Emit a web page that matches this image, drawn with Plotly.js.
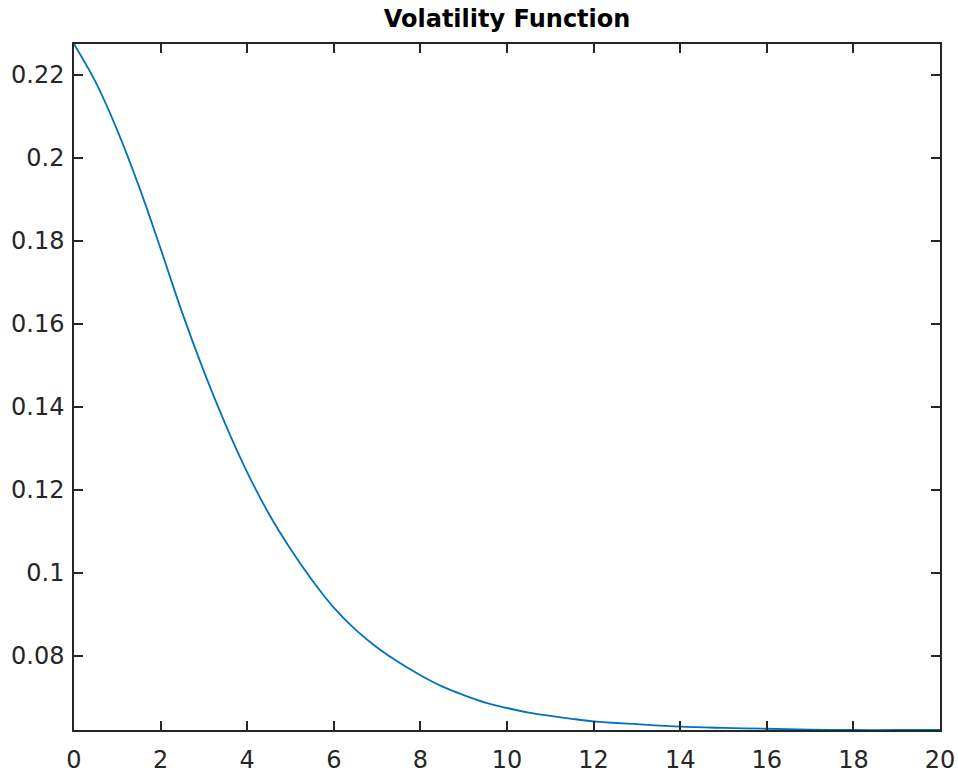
<!DOCTYPE html>
<html>
<head>
<meta charset="utf-8">
<script src="https://cdn.plot.ly/plotly-3.0.1.min.js"></script>
<style>html,body{margin:0;padding:0;background:#fff;}#chart{width:958px;height:773px;}</style>
</head>
<body>
<div id="chart"></div>
<script>
// Time (x) values and volatility (y) values
const timeValues = [0, 0.5, 1, 1.5, 2, 2.5, 3, 3.5, 4, 4.5, 5, 5.5, 6, 6.5, 7, 7.5, 8, 8.5, 9, 9.5, 10, 10.5, 11, 11.5, 12, 13, 14, 15, 16, 17, 18, 19, 20];
const volatilityValues = [0.2274, 0.2182, 0.2066, 0.1931, 0.1781, 0.1626, 0.1485, 0.1357, 0.1242, 0.1142, 0.1057, 0.0982, 0.0916, 0.0863, 0.0820, 0.0784, 0.0753, 0.0726, 0.0705, 0.0687, 0.0674, 0.0663, 0.0655, 0.0648, 0.0642, 0.0635, 0.0629, 0.0626, 0.0624, 0.0622, 0.0621, 0.0621, 0.0621];

const xTickValues = [0, 2, 4, 6, 8, 10, 12, 14, 16, 18, 20];
const xTickLabels = ["0", "2", "4", "6", "8", "10", "12", "14", "16", "18", "20"];
const yTickValues = [0.08, 0.10, 0.12, 0.14, 0.16, 0.18, 0.20, 0.22];
const yTickLabels = ["0.08", "0.1", "0.12", "0.14", "0.16", "0.18", "0.2", "0.22"];

const chartTitle = "Volatility Function";

const axisColor = "#262626";
const fontFamily = "DejaVu Sans, Verdana, sans-serif";
const tickFont = {family: fontFamily, size: 24, color: axisColor};

const trace = {
  x: timeValues,
  y: volatilityValues,
  type: "scatter",
  mode: "lines",
  line: {color: "#0072BD", width: 1.8, shape: "spline", smoothing: 1},
  hoverinfo: "x+y"
};

const commonAxis = {
  showline: true,
  linecolor: axisColor,
  linewidth: 1.5,
  mirror: "ticks",
  ticks: "inside",
  ticklen: 9,
  tickwidth: 1.5,
  tickcolor: axisColor,
  showgrid: false,
  zeroline: false,
  tickfont: tickFont,
  tickmode: "array"
};

const layout = {
  width: 958,
  height: 773,
  margin: {l: 74, r: 18, t: 44, b: 43, pad: 0},
  paper_bgcolor: "#ffffff",
  plot_bgcolor: "#ffffff",
  showlegend: false,
  title: {
    text: "<b>" + chartTitle + "</b>",
    font: {family: fontFamily, size: 24, color: "#000000"},
    x: 0.5293,
    xanchor: "center",
    xref: "container",
    y: 1 - 19 / 773,
    yanchor: "middle",
    yref: "container"
  },
  xaxis: Object.assign({}, commonAxis, {
    range: [0, 20],
    tickvals: xTickValues,
    ticktext: xTickLabels,
    ticklabelstandoff: 7
  }),
  yaxis: Object.assign({}, commonAxis, {
    range: [0.0621, 0.2274],
    tickvals: yTickValues,
    ticktext: yTickLabels,
    ticklabelstandoff: 3
  })
};

Plotly.newPlot("chart", [trace], layout, {displayModeBar: false});
</script>
</body>
</html>
